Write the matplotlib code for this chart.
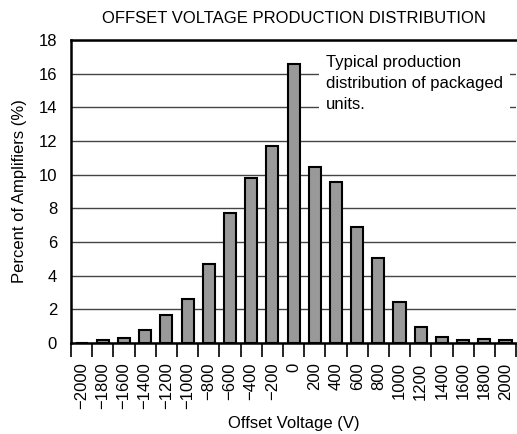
import matplotlib
matplotlib.use("Agg")
import matplotlib.pyplot as plt
import numpy as np

plt.rcParams['font.family'] = ['Liberation Sans', 'DejaVu Sans']

# data
voltages = [-2000, -1800, -1600, -1400, -1200, -1000, -800, -600, -400, -200, 0,
            200, 400, 600, 800, 1000, 1200, 1400, 1600, 1800, 2000]
percent = [0.0, 0.2, 0.3, 0.8, 1.65, 2.64, 4.67, 7.74, 9.79, 11.7, 16.6,
           10.47, 9.55, 6.9, 5.05, 2.45, 0.93, 0.36, 0.15, 0.26, 0.16]
tick_labels = [str(v).replace('-', '\u2212') for v in voltages]

fig = plt.figure(figsize=(5.17, 4.34), dpi=100)
ax = fig.add_axes([0.1373, 0.2097, 0.861, 0.698])

x = np.arange(len(voltages))
ax.bar(x, percent, width=0.57, color='#999999', edgecolor='black', linewidth=1.5, zorder=3)

ax.set_xlim(-0.5, len(voltages) - 0.5)
ax.set_ylim(0, 18)
ax.set_yticks(np.arange(0, 19, 2))
ax.yaxis.grid(True, color='#444444', linewidth=1.0, zorder=0)
ax.tick_params(axis='y', length=0, labelsize=12, pad=10)

ax.set_xticks(x)
ax.set_xticklabels(tick_labels, rotation=90, fontsize=12)
ax.set_xticks(np.arange(-0.5, len(voltages)), minor=True)
ax.tick_params(axis='x', which='major', length=0, pad=14)
ax.tick_params(axis='x', which='minor', length=10, width=1.2, color='black')

ax.spines['right'].set_visible(False)
for side in ['left', 'bottom', 'top']:
    ax.spines[side].set_linewidth(1.8)

ax.set_xlabel('Offset Voltage (V)', fontsize=12, labelpad=5)
ax.set_ylabel('Percent of Amplifiers (%)', fontsize=12, labelpad=8)
ax.set_title('OFFSET VOLTAGE PRODUCTION DISTRIBUTION', fontsize=12, pad=12)

ax.text(0.572, 0.95, 'Typical production\ndistribution of packaged\nunits.',
        transform=ax.transAxes, ha='left', va='top', fontsize=12, linespacing=1.5,
        bbox=dict(facecolor='white', edgecolor='none', pad=5), zorder=4)

fig.savefig('out.png', dpi=100)
